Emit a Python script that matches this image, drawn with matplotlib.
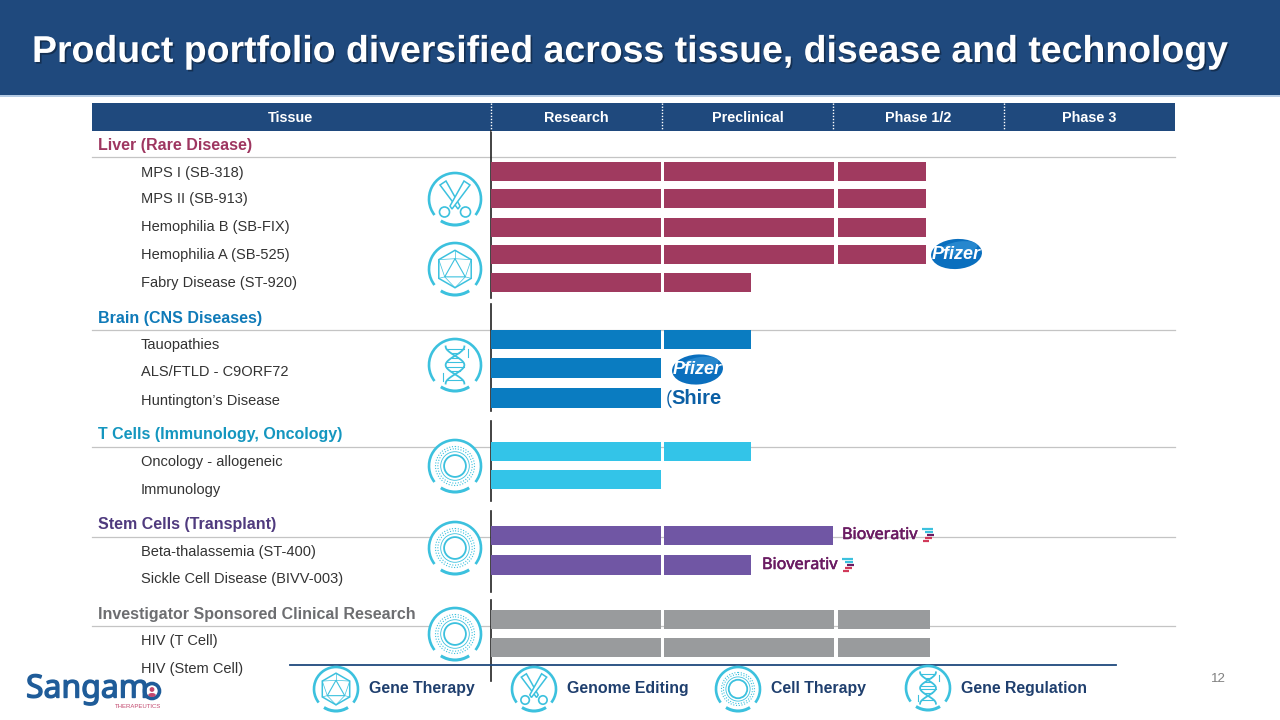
import numpy as np
import matplotlib
matplotlib.use("Agg")
import matplotlib.pyplot as plt
from matplotlib.patches import Rectangle, Circle, Ellipse, Arc, Polygon
import matplotlib.patheffects as pe

plt.rcParams['font.family'] = ['Liberation Sans', 'DejaVu Sans']

# ---------- data ----------
title = "Product portfolio diversified across tissue, disease and technology"
header_first = "Tissue"
phases = ["Research", "Preclinical", "Phase 1/2", "Phase 3"]
section_names = ["Liver (Rare Disease)", "Brain (CNS Diseases)", "T Cells (Immunology, Oncology)",
                 "Stem Cells (Transplant)", "Investigator Sponsored Clinical Research"]
liver_programs = ["MPS I (SB-318)", "MPS II (SB-913)", "Hemophilia B (SB-FIX)", "Hemophilia A (SB-525)", "Fabry Disease (ST-920)"]
liver_progress = [2.545, 2.545, 2.545, 2.545, 1.52]
brain_programs = ["Tauopathies", "ALS/FTLD - C9ORF72", "Huntington\u2019s Disease"]
brain_progress = [1.52, 1.0, 1.0]
tcell_programs = ["Oncology - allogeneic", "Immunology"]
tcell_progress = [1.52, 1.0]
stem_programs = ["Beta-thalassemia (ST-400)", "Sickle Cell Disease (BIVV-003)"]
stem_progress = [2.0, 1.52]
hiv_programs = ["HIV (T Cell)", "HIV (Stem Cell)"]
hiv_progress = [2.57, 2.57]
legend_names = ["Gene Therapy", "Genome Editing", "Cell Therapy", "Gene Regulation"]
page_number = "12"

# ---------- layout and style ----------
NAVY = "#1F497D"
RING = "#3CC1DE"
section_colors = ["#9E3660", "#0F7AB8", "#1496BF", "#4F3A7E", "#6D6E71"]
bar_colors = ["#A03A5F", "#0A7CC1", "#33C4E8", "#7056A4", "#999B9D"]
section_y = [145.5, 318, 435, 525, 614.5]
rule_y = [157, 329.5, 446.5, 536.5, 626]
row_y = [[171.5, 198.7, 227.5, 254.7, 282.5], [339.7, 368, 398], [451.5, 479.5], [535.5, 565], [619.5, 647.5]]
row_text_y = [[172.5, 199.5, 227.5, 255.5, 283.5], [344.5, 372.5, 400.5], [462, 490], [552, 579.5], [640.5, 668.5]]
spine_spans = [(131, 298), (304, 411), (421, 501), (511, 592), (600, 681)]
BAR_H = 19.5

fig = plt.figure(figsize=(12.8, 7.2), dpi=100, facecolor="white")
bg = fig.add_axes([0, 0, 1, 1])
bg.set_xlim(0, 1280)
bg.set_ylim(720, 0)
bg.axis("off")

# Phase axis: one unit is one development phase
ax = fig.add_axes([491 / 1280, 0, (1175 - 491) / 1280, 1])
ax.set_xlim(0, 4)
ax.set_ylim(720, 0)
ax.axis("off")
ax.patch.set_alpha(0)

# Banner
bg.add_patch(Rectangle((0, 0), 1280, 95, fc=NAVY, ec="none"))
bg.add_patch(Rectangle((0, 95), 1280, 2, fc="#B5CBE4", ec="none"))
bg.text(32, 52.5, title, color="white", fontsize=26.95, fontweight="bold", va="center", ha="left",
        path_effects=[pe.withSimplePatchShadow(offset=(1.2, -1.2), shadow_rgbFace="#10253F", alpha=0.7)])

# Table header
bg.add_patch(Rectangle((92, 103), 1083, 28, fc=NAVY, ec="none"))
bg.text(291, 118, header_first, color="white", fontsize=10.4, fontweight="bold", ha="center", va="center")
for i, p in enumerate(phases):
    ax.text(i + 0.5, 118, p, color="white", fontsize=10.4, fontweight="bold", ha="center", va="center")
    ax.plot([i, i], [103, 131], color="white", lw=1, ls=(0, (1, 1.2)), zorder=3, clip_on=False)

# Sections
all_programs = [liver_programs, brain_programs, tcell_programs, stem_programs, hiv_programs]
all_progress = [liver_progress, brain_progress, tcell_progress, stem_progress, hiv_progress]
for name, c, y, ry in zip(section_names, section_colors, section_y, rule_y):
    bg.text(98.5, y, name, color=c, fontsize=11.5, fontweight="bold", ha="left", va="center")
    bg.plot([92, 1175], [ry, ry], color="#C4C4C4", lw=0.9, zorder=1)
for y0, y1 in spine_spans:
    bg.plot([491, 491], [y0, y1], color="#222222", lw=1.2, zorder=2)

for progs, c, ys, tys, vals in zip(all_programs, bar_colors, row_y, row_text_y, all_progress):
    for prog, y, ty, v in zip(progs, ys, tys, vals):
        bg.text(141, ty, prog, color="#333333", fontsize=10.5, ha="left", va="center", zorder=6)
        edges = [(0, 0.995), (1.012, 2.005), (2.03, 4)]
        for a, b in edges:
            if v > a:
                ax.add_patch(Rectangle((a, y - BAR_H / 2), min(v, b) - a, BAR_H, fc=c, ec="none", zorder=3))

# ---------- icon helpers ----------
def ring(cx, cy, r):
    bg.add_patch(Circle((cx, cy), r, fc="white", ec="none", zorder=4))
    s = 2 * r
    # y axis is inverted: angles run clockwise on screen; 90 is the bottom
    bg.add_patch(Arc((cx, cy), s, s, theta1=142, theta2=398, color=RING, lw=1.9, zorder=5))
    bg.add_patch(Arc((cx, cy), s, s, theta1=57, theta2=123, color=RING, lw=2.2, zorder=5))

def hexagon_icon(cx, cy, r):
    ring(cx, cy, r)
    R = r * 0.72
    ang = np.deg2rad(np.arange(0, 360, 60) + 30)
    pts = np.c_[cx + R * np.cos(ang), cy + R * np.sin(ang)]
    bg.add_patch(Polygon(pts, closed=True, fc="none", ec=RING, lw=1.1, zorder=5))
    top = (cx, cy - R * 0.55)
    bl = (cx - R * 0.55, cy + R * 0.42)
    br = (cx + R * 0.55, cy + R * 0.42)
    bg.add_patch(Polygon([top, bl, br], closed=True, fc="none", ec=RING, lw=0.8, zorder=5))
    for p in pts:
        for q in (top, bl, br):
            if np.hypot(p[0] - q[0], p[1] - q[1]) < R * 1.0:
                bg.plot([p[0], q[0]], [p[1], q[1]], color=RING, lw=0.5, zorder=5)

def scissors_icon(cx, cy, r):
    ring(cx, cy, r)
    k = r / 26
    for sgn in (-1, 1):
        blade = [(cx + sgn * 15 * k, cy - 14 * k), (cx + sgn * 9 * k, cy - 18 * k),
                 (cx - sgn * 5 * k, cy + 7 * k), (cx - sgn * 3 * k, cy + 10 * k)]
        bg.add_patch(Polygon(blade, closed=True, fc="white", ec=RING, lw=1.1, zorder=5))
        bg.add_patch(Circle((cx + sgn * 10.5 * k, cy + 13 * k), 5 * k, fc="white", ec=RING, lw=1.2, zorder=5))

def cell_icon(cx, cy, r):
    ring(cx, cy, r)
    bg.add_patch(Circle((cx, cy), r * 0.42, fc="none", ec=RING, lw=1.3, zorder=5))
    bg.add_patch(Circle((cx, cy), r * 0.55, fc="none", ec=RING, lw=0.6, zorder=5))
    for f in (0.66, 0.75):
        bg.add_patch(Circle((cx, cy), r * f, fc="none", ec=RING, lw=0.8, ls=(0, (1, 1.5)), zorder=5))

def dna_icon(cx, cy, r):
    ring(cx, cy, r)
    t = np.linspace(-0.62, 0.62, 60)
    w = r * 0.36 * np.cos(t * np.pi / 0.62)
    yy = cy + t * r * 1.15
    bg.plot(cx + w, yy, color=RING, lw=1.3, zorder=5)
    bg.plot(cx - w, yy, color=RING, lw=1.3, zorder=5)
    for i in range(4, 60, 7):
        if abs(w[i]) > r * 0.1:
            bg.plot([cx - w[i], cx + w[i]], [yy[i], yy[i]], color=RING, lw=0.8, zorder=5)
    bg.plot([cx + r * 0.5, cx + r * 0.5], [cy - r * 0.6, cy - r * 0.3], color=RING, lw=0.8, zorder=5)
    bg.plot([cx - r * 0.45, cx - r * 0.45], [cy + r * 0.3, cy + r * 0.6], color=RING, lw=0.8, zorder=5)

def pfizer(cx, cy):
    bg.add_patch(Ellipse((cx, cy), 51, 30, angle=-4, fc="#0A6FBE", ec="none", zorder=6))
    bg.add_patch(Ellipse((cx + 3, cy - 6), 36, 13, angle=-8, fc="#3E9BDC", ec="none", alpha=0.55, zorder=6))
    bg.text(cx, cy + 0.5, "Pfizer", color="white", fontsize=13, style="italic", fontweight="bold",
            ha="center", va="center", zorder=7, family="Liberation Sans")

def bioverativ(x, y):
    bg.text(x, y, "Bioverativ", color="#6A1B62", fontsize=11.6, ha="left", va="center", zorder=6, family="Noto Sans",
            path_effects=[pe.withStroke(linewidth=0.4, foreground="#6A1B62")])
    for dy, c, a, b in ((-6, "#3CC1DE", 0, 11), (-3, "#3CC1DE", 3, 11), (0, "#6A1B62", 5, 12),
                        (3, "#D13A5A", 3, 10), (6, "#D13A5A", 1, 7)):
        bg.plot([x + 80 + a, x + 80 + b], [y + dy, y + dy], color=c, lw=1.6, zorder=6, solid_capstyle="butt")

# Icons
scissors_icon(455, 199, 26)
hexagon_icon(455, 269, 26)
dna_icon(455, 365, 26)
cell_icon(455, 466, 26)
cell_icon(455, 548, 26)
cell_icon(455, 634, 26)

# Partner logos
pfizer(956.5, 254)
pfizer(697.5, 369.5)
bg.text(697, 398, "Shire", color="#0B5FA5", fontsize=14.5, fontweight="bold", ha="center", va="center", zorder=6)
bg.add_patch(Arc((673, 399), 10, 18, theta1=100, theta2=260, color="#0B5FA5", lw=1.0, zorder=6))
bioverativ(842, 535)
bioverativ(762, 565)

# Footer
bg.plot([290, 1116], [665, 665], color=NAVY, lw=1.3, zorder=3)
bg.text(1218, 679, page_number, color="#808080", fontsize=9.6, ha="center", va="center")
hexagon_icon(336, 689, 22)
scissors_icon(534, 689, 22)
cell_icon(738, 689, 22)
dna_icon(928, 688, 22)
for x, n in zip([369, 567, 771, 961], legend_names):
    bg.text(x, 688.5, n, color="#1F3F6E", fontsize=11.4, fontweight="bold", ha="left", va="center", zorder=6)

# Company logo
bg.text(26, 689, "Sangam", color="#1F5C99", fontsize=23, ha="left", va="center", family="Noto Sans", zorder=6,
        path_effects=[pe.withStroke(linewidth=1.0, foreground="#1F5C99")])
bg.add_patch(Circle((152, 691), 7.5, fc="none", ec="#1F5C99", lw=2.6, zorder=6))
bg.add_patch(Circle((152, 689.5), 2.4, fc="#C2486E", ec="none", zorder=6))
bg.add_patch(Ellipse((152, 695), 7.5, 4, fc="#C2486E", ec="none", zorder=6))
bg.text(161.5, 706.5, "THERAPEUTICS", color="#C2486E", fontsize=4.3, ha="right", va="center", zorder=6)

fig.savefig("out.png", dpi=100)
